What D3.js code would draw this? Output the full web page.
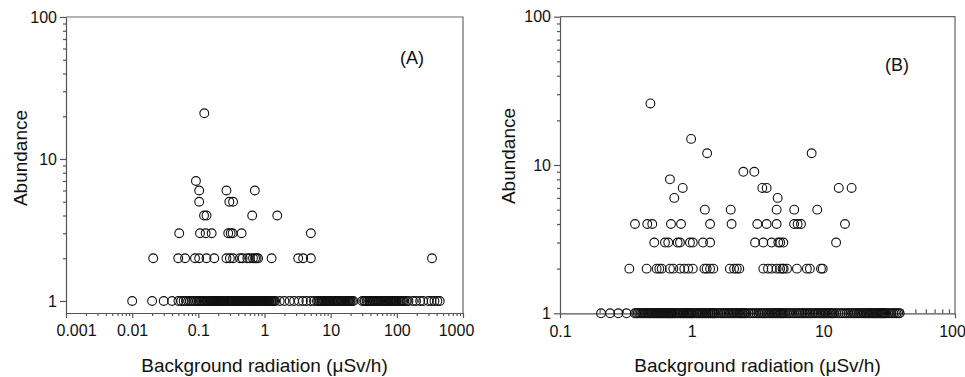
<!DOCTYPE html>
<html>
<head>
<meta charset="utf-8">
<script src="https://cdn.jsdelivr.net/npm/d3@7"></script>
<style>
  body { margin: 0; background: #fff; }
  svg { display: block; font-family: "Liberation Sans", Arial, sans-serif; }
  .domain, .tick line { stroke: #555; stroke-width: 1.2; }
  .tick text { fill: #111; font-size: 16px; }
</style>
</head>
<body>
<svg width="965" height="377"></svg>
<script>
// Panel A: abundance levels and the background radiation (uSv/h) of each point at that level
const levelsA = [1, 2, 3, 4, 5, 6, 7, 21]
const radA = [
  [0.01, 0.02, 0.03, 0.04, 0.05, 0.055, 0.06, 0.065, 0.07, 0.075, 0.08, 0.085, 0.09, 0.095, 0.1, 0.105,
   0.11, 0.115, 0.12, 0.125, 0.13, 0.135, 0.14, 0.145, 0.15, 0.155, 0.16, 0.165, 0.17, 0.175, 0.18,
   0.185, 0.19, 0.195, 0.2, 0.205, 0.21, 0.215, 0.22, 0.225, 0.23, 0.235, 0.24, 0.245, 0.25, 0.26, 0.27,
   0.28, 0.29, 0.3, 0.31, 0.32, 0.33, 0.34, 0.35, 0.36, 0.37, 0.38, 0.39, 0.4, 0.41, 0.42, 0.43, 0.44,
   0.45, 0.46, 0.47, 0.48, 0.49, 0.5, 0.51, 0.52, 0.54, 0.55, 0.57, 0.58, 0.6, 0.62, 0.63, 0.65, 0.66,
   0.68, 0.7, 0.72, 0.73, 0.75, 0.76, 0.78, 0.8, 0.82, 0.84, 0.86, 0.88, 0.9, 0.92, 0.94, 0.96, 0.98,
   1.0, 1.03, 1.05, 1.08, 1.1, 1.13, 1.15, 1.18, 1.2, 1.25, 1.3, 1.35, 1.4, 1.45, 1.7, 2.0, 2.4, 2.8,
   3.3, 3.8, 4.3, 5.0, 5.6, 6.2, 6.5, 6.8, 7, 7.3, 7.5, 7.8, 8, 8.3, 8.5, 8.8, 9, 9.3, 9.5, 9.8, 10,
   10.5, 11, 11.5, 12, 12.5, 13, 13.5, 14, 14.5, 15, 15.5, 16, 16.5, 17, 17.5, 18, 18.5, 19, 19.5, 20,
   21, 22, 30, 32, 33, 35, 36, 38, 39, 40, 42, 43, 45, 46, 48, 50, 52, 54, 56, 58, 60, 62, 64, 66, 68,
   70, 72, 75, 78, 80, 82, 85, 88, 90, 92, 95, 98, 100, 105, 110, 115, 120, 125, 130, 140, 150, 175,
   195, 225, 250, 300, 335, 370, 410, 445],
  [0.0208, 0.0497, 0.063, 0.089, 0.103, 0.133, 0.174, 0.266, 0.30, 0.335, 0.425, 0.467, 0.55, 0.601,
   0.67, 0.72, 0.76, 0.8, 1.28, 3.23, 3.84, 5.02, 340],
  [0.0514, 0.106, 0.129, 0.159, 0.283, 0.308, 0.33, 0.451, 5.02],
  [0.122, 0.133, 0.652, 1.56],
  [0.103, 0.294, 0.335],
  [0.103, 0.266, 0.715],
  [0.092],
  [0.123]
]

// Panel B
const levelsB = [1, 2, 3, 4, 5, 6, 7, 8, 9, 12, 15, 26]
const radB = [
  [0.205, 0.24, 0.277, 0.32, 0.37, 0.38, 0.39, 0.4, 0.41, 0.42, 0.43, 0.44, 0.45, 0.46, 0.47, 0.48,
   0.49, 0.5, 0.51, 0.52, 0.53, 0.54, 0.55, 0.56, 0.57, 0.58, 0.59, 0.6, 0.61, 0.62, 0.63, 0.64, 0.65,
   0.66, 0.67, 0.68, 0.69, 0.7, 0.71, 0.72, 0.74, 0.75, 0.77, 0.78, 0.8, 0.82, 0.83, 0.85, 0.86, 0.88,
   0.9, 0.92, 0.93, 0.95, 0.96, 0.98, 1.0, 1.02, 1.05, 1.08, 1.1, 1.12, 1.15, 1.18, 1.2, 1.22, 1.25,
   1.28, 1.3, 1.33, 1.35, 1.38, 1.4, 1.43, 1.45, 1.48, 1.5, 1.55, 1.6, 1.65, 1.7, 1.75, 1.8, 1.85, 1.9,
   1.95, 2.0, 2.05, 2.1, 2.15, 2.2, 2.25, 2.3, 2.35, 2.4, 2.45, 2.5, 2.55, 2.6, 2.7, 2.8, 2.9, 3.0, 3.1,
   3.2, 3.3, 3.4, 3.5, 3.6, 3.7, 3.8, 3.9, 4.0, 4.1, 4.2, 4.3, 4.4, 4.5, 4.6, 4.7, 4.8, 4.9, 5.0, 5.15,
   5.3, 5.45, 5.6, 5.8, 6.0, 6.2, 6.4, 6.6, 6.8, 7.0, 7.2, 7.4, 7.6, 7.8, 8.0, 8.25, 8.5, 8.75, 9, 9.25,
   9.5, 9.75, 10, 10.25, 10.5, 10.75, 11, 11.25, 11.5, 11.75, 12, 12.5, 13, 13.5, 14, 14.5, 15, 15.5, 16,
   16.5, 17, 17.5, 18, 18.5, 19, 19.5, 20, 20.5, 21, 21.5, 22, 22.5, 23, 23.5, 24, 24.5, 25, 25.5, 26,
   26.5, 27, 27.5, 28, 28.5, 29, 29.5, 30, 31, 32, 33, 34, 35, 36, 37, 38],
  [0.336, 0.455, 0.542, 0.568, 0.592, 0.684, 0.725, 0.815, 0.879, 0.942, 1.02, 1.25, 1.30, 1.38,
   1.46, 1.95, 2.1, 2.2, 2.3, 3.5, 3.8, 4.05, 4.42, 4.7, 4.9, 5.0, 5.3, 6.3, 7.5, 7.9, 9.6, 9.9],
  [0.52, 0.627, 0.664, 0.783, 0.815, 0.97, 1.02, 1.22, 1.38, 3.03, 3.5, 4.05, 4.55, 4.7, 4.97, 12.5],
  [0.371, 0.46, 0.502, 0.696, 0.83, 1.38, 2.01, 3.15, 3.71, 4.42, 6.0, 6.38, 6.76, 14.6],
  [1.26, 1.98, 4.42, 6.01, 8.99],
  [0.738, 4.5],
  [0.855, 3.44, 3.71, 13.1, 16.4],
  [0.684],
  [2.47, 2.99],
  [1.31, 8.15],
  [0.99],
  [0.486]
]

const xTicksA = [0.001, 0.01, 0.1, 1, 10, 100, 1000]
const xTickLabelsA = ["0.001", "0.01", "0.1", "1", "10", "100", "1000"]
const xTicksB = [0.1, 1, 10, 100]
const xTickLabelsB = ["0.1", "1", "10", "100"]
const yTicks = [1, 10, 100]
const yTickLabels = ["1", "10", "100"]

const svg = d3.select('svg')

const minorTicks = (lo, hi) => {
    const out = []
    for (let d = lo; d < hi; d *= 10)
        for (let k = 2; k <= 9; k++) out.push(+(k * d).toPrecision(3))
    return out
}

const draw_panel = (p) => {
    const g = svg.append('g')
    const [x0, x1] = p.x.range(), [y0, y1] = p.y.range()

    // frame: top and right
    g.append('path')
        .attr('d', `M${x0},${y1}H${x1}V${y0}`)
        .attr('fill', 'none').attr('stroke', '#666').attr('stroke-width', 1.2)

    // x axis, minor then major
    g.append('g')
        .attr('transform', `translate(0,${y0})`)
        .call(d3.axisBottom(p.x).tickValues(minorTicks(p.xTicks[0], p.xTicks[p.xTicks.length - 1]))
            .tickSizeInner(p.minorUp ? -4 : 3).tickSizeOuter(0).tickFormat(''))
        .call(a => a.select('.domain').remove())

    const xa = g.append('g')
        .attr('transform', `translate(0,${y0})`)
        .call(d3.axisBottom(p.x).tickValues(p.xTicks).tickSizeInner(5).tickSizeOuter(0).tickPadding(7)
            .tickFormat((d, i) => p.xLabels[i]))
    xa.selectAll('.tick text').attr('dx', (d, i) => p.xShift[i] || 0)

    // y axis
    g.append('g')
        .attr('transform', `translate(${x0},0)`)
        .call(d3.axisLeft(p.y).tickValues(minorTicks(1, 100)).tickSizeInner(3).tickSizeOuter(0).tickFormat(''))
        .call(a => a.select('.domain').remove())

    g.append('g')
        .attr('transform', `translate(${x0},0)`)
        .call(d3.axisLeft(p.y).tickValues(yTicks).tickSizeInner(6).tickSizeOuter(0).tickPadding(3)
            .tickFormat((d, i) => yTickLabels[i]))

    // points
    const pts = p.levels.flatMap((lv, i) => p.rad[i].map(r => ({ r, lv })))
    g.append('g').selectAll('circle')
        .data(pts)
        .join('circle')
        .attr('cx', d => p.x(d.r))
        .attr('cy', d => p.y(d.lv))
        .attr('r', 4.4)
        .attr('fill', 'none')
        .attr('stroke', '#111')
        .attr('stroke-width', 1.1)

    // titles
    g.append('text')
        .attr('x', (x0 + x1) / 2).attr('y', 372)
        .attr('text-anchor', 'middle').attr('font-size', 19).attr('fill', '#111')
        .text('Background radiation (μSv/h)')

    g.append('text')
        .attr('transform', `translate(${p.ylabX},${p.ylabY}) rotate(-90)`)
        .attr('text-anchor', 'middle').attr('font-size', 19).attr('fill', '#111')
        .text('Abundance')

    g.append('text')
        .attr('x', p.tag[0]).attr('y', p.tag[1])
        .attr('text-anchor', 'middle').attr('font-size', 18).attr('fill', '#111')
        .text(p.tagText)
}

draw_panel({
    x: d3.scaleLog().domain([0.001, 1000]).range([66, 463]),
    y: d3.scaleLog().domain([0.823, 100]).range([313, 17]),
    levels: levelsA, rad: radA,
    xTicks: xTicksA, xLabels: xTickLabelsA, xShift: [10, 0, 0, 0, 0, 0, -7],
    minorUp: false,
    ylabX: 27, ylabY: 158,
    tag: [412, 64], tagText: '(A)'
})

draw_panel({
    x: d3.scaleLog().domain([0.1, 100]).range([560, 955]),
    y: d3.scaleLog().domain([1, 100]).range([313.3, 16.7]),
    levels: levelsB, rad: radB,
    xTicks: xTicksB, xLabels: xTickLabelsB, xShift: [0, 0, 0, -3],
    minorUp: true,
    ylabX: 515, ylabY: 156,
    tag: [897, 71], tagText: '(B)'
})
</script>
</body>
</html>
